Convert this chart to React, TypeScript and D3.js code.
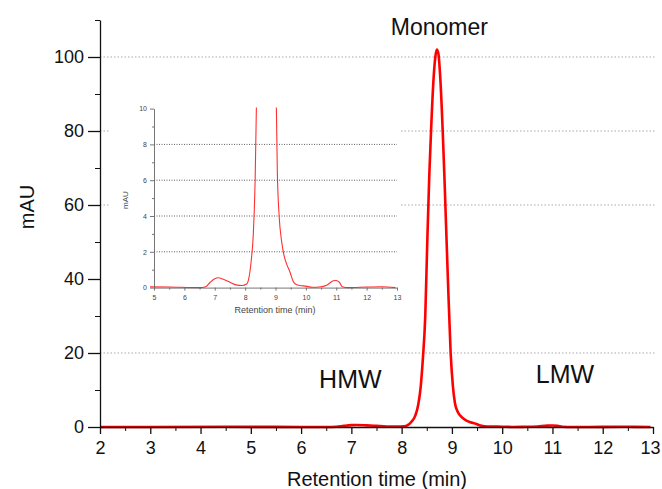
import React, { useEffect, useRef } from 'react';
import * as d3 from 'd3';

// chromatogram trace (retention time in min, absorbance in mAU)
const times = [2.0, 3.0, 4.5, 5.5, 6.5, 6.7, 6.85, 7.0, 7.1, 7.3, 7.5, 7.7, 7.9, 8.05, 8.12, 8.2, 8.27, 8.33, 8.38, 8.42, 8.47, 8.51, 8.55, 8.585, 8.63, 8.67, 8.7, 8.73, 8.77, 8.817, 8.85, 8.87, 8.92, 8.975, 9.02, 9.06, 9.12, 9.2, 9.28, 9.37, 9.47, 9.57, 9.65, 9.8, 10.0, 10.2, 10.5, 10.7, 10.9, 11.0, 11.1, 11.2, 11.4, 12.0, 12.5, 12.95];
const mAU = [0, 0.02, 0.05, 0.03, 0, 0.05, 0.3, 0.5, 0.55, 0.45, 0.3, 0.15, 0.12, 0.2, 0.5, 1.5, 3, 6, 11, 18, 30, 50, 68, 80, 93, 100, 102, 101, 94, 80, 68, 60, 40, 20, 11, 6.5, 4, 2.6, 1.8, 1.3, 0.9, 0.4, 0.2, 0.12, 0.08, 0.02, 0.05, 0.15, 0.38, 0.4, 0.3, 0.05, 0, 0.03, 0.05, 0];

const xTicks = [2, 3, 4, 5, 6, 7, 8, 9, 10, 11, 12, 13];
const yTicks = [0, 20, 40, 60, 80, 100];
const gridValues = [20, 60, 80, 100];
const insetXTicks = [5, 6, 7, 8, 9, 10, 11, 12, 13];
const insetYTicks = [0, 2, 4, 6, 8, 10];
const insetGrid = [2, 4, 6, 8];

const peakLabels = [
  { text: 'Monomer', t: 8.75, v: 106, size: 23 },
  { text: 'HMW', t: 6.98, v: 10.5, size: 25 },
  { text: 'LMW', t: 11.25, v: 12, size: 25 },
];

const App = () => {
  const ref = useRef(null);

  useEffect(() => {
    const svg = d3.select(ref.current);
    svg.selectAll('*').remove();
    const font = '"Liberation Sans", Arial, sans-serif';
    const data = times.map((t, i) => ({ t, v: mAU[i] }));

    // main plot
    const x = d3.scaleLinear().domain([2, 13]).range([100, 653]);
    const y = d3.scaleLinear().domain([0, 110]).range([427, 20]);

    svg.append('g').selectAll('line').data(gridValues).join('line')
      .attr('x1', 100).attr('x2', 656)
      .attr('y1', d => y(d)).attr('y2', d => y(d))
      .attr('stroke', '#a8a8a8').attr('stroke-width', 1)
      .attr('stroke-dasharray', '1.5,2');

    const line = d3.line().x(d => x(d.t)).y(d => y(d.v)).curve(d3.curveMonotoneX);
    svg.append('path').datum(data)
      .attr('d', line).attr('fill', 'none')
      .attr('stroke', '#ff0000').attr('stroke-width', 2.6);

    const xAx = svg.append('g').attr('transform', 'translate(0,427)')
      .call(d3.axisBottom(x).tickValues(xTicks).tickFormat(d3.format('d')).tickSize(7).tickSizeOuter(0));
    svg.append('g').attr('transform', 'translate(0,427)')
      .call(d3.axisBottom(x).tickValues(d3.range(2.5, 13, 1)).tickFormat(() => '').tickSize(4).tickSizeOuter(0))
      .select('.domain').remove();
    const yAx = svg.append('g').attr('transform', 'translate(100,0)')
      .call(d3.axisLeft(y).tickValues(yTicks).tickSize(12).tickSizeOuter(0));
    svg.append('g').attr('transform', 'translate(100,0)')
      .call(d3.axisLeft(y).tickValues(d3.range(10, 111, 20)).tickFormat(() => '').tickSize(5).tickSizeOuter(0))
      .select('.domain').remove();
    [xAx, yAx].forEach(g => {
      g.selectAll('text').attr('font-family', font).attr('font-size', 18).attr('fill', '#111');
      g.selectAll('line, path').attr('stroke', '#111').attr('stroke-width', 1.3);
    });
    xAx.selectAll('text').attr('dy', '0.95em');
    xAx.selectAll('text').filter(d => d === 13).attr('dx', '-3px');
    yAx.selectAll('text').attr('dx', '-1px');
    svg.selectAll('g > .tick line').attr('stroke', '#111');

    svg.append('text').attr('x', 377).attr('y', 486).attr('text-anchor', 'middle')
      .attr('font-family', font).attr('font-size', 20).attr('fill', '#111')
      .text('Retention time (min)');
    svg.append('text').attr('transform', 'translate(34,207) rotate(-90)').attr('text-anchor', 'middle')
      .attr('font-family', font).attr('font-size', 20).attr('fill', '#111')
      .text('mAU');

    svg.append('g').selectAll('text').data(peakLabels).join('text')
      .attr('x', d => x(d.t)).attr('y', d => y(d.v)).attr('text-anchor', 'middle')
      .attr('font-family', font).attr('font-size', d => d.size).attr('fill', '#111')
      .text(d => d.text);

    // inset
    const ins = svg.append('g');
    ins.append('rect').attr('x', 110).attr('y', 98).attr('width', 289).attr('height', 222).attr('fill', '#fff');
    const ix = d3.scaleLinear().domain([5, 13]).range([154, 397]);
    const iy = d3.scaleLinear().domain([0, 10]).range([287.6, 108.6]);

    ins.append('g').selectAll('line').data(insetGrid).join('line')
      .attr('x1', 154).attr('x2', 397)
      .attr('y1', d => iy(d)).attr('y2', d => iy(d))
      .attr('stroke', '#333').attr('stroke-width', 0.8)
      .attr('stroke-dasharray', '1,1.5');

    ins.append('clipPath').attr('id', 'insclip').append('rect')
      .attr('x', 150).attr('y', iy(10) - 1).attr('width', 250).attr('height', 185);
    const iline = d3.line().x(d => ix(d.t)).y(d => iy(d.v)).curve(d3.curveMonotoneX);
    ins.append('path').datum(data.filter(d => d.t >= 4.5))
      .attr('clip-path', 'url(#insclip)')
      .attr('d', iline).attr('fill', 'none')
      .attr('stroke', '#ff3030').attr('stroke-width', 1.1);

    const ixAx = ins.append('g').attr('transform', `translate(0,${iy(0)})`)
      .call(d3.axisBottom(ix).tickValues(insetXTicks).tickFormat(d3.format('d')).tickSize(3).tickSizeOuter(0));
    ins.append('g').attr('transform', `translate(0,${iy(0)})`)
      .call(d3.axisBottom(ix).tickValues(d3.range(5.5, 13, 1)).tickFormat(() => '').tickSize(2).tickSizeOuter(0))
      .select('.domain').remove();
    const iyAx = ins.append('g').attr('transform', 'translate(154,0)')
      .call(d3.axisLeft(iy).tickValues(insetYTicks).tickFormat(d3.format('d')).tickSize(4).tickSizeOuter(0));
    ins.append('g').attr('transform', 'translate(154,0)')
      .call(d3.axisLeft(iy).tickValues([1, 3, 5, 7, 9]).tickFormat(() => '').tickSize(2).tickSizeOuter(0))
      .select('.domain').remove();
    [ixAx, iyAx].forEach(g => {
      g.selectAll('text').attr('font-family', font).attr('font-size', 7).attr('fill', '#444');
    });
    ins.selectAll('.domain, .tick line').attr('stroke', '#666').attr('stroke-width', 0.9);
    ixAx.selectAll('text').attr('dy', '0.9em');

    ins.append('text').attr('x', 275).attr('y', 313).attr('text-anchor', 'middle')
      .attr('font-family', font).attr('font-size', 9).attr('fill', '#444')
      .text('Retention time (min)');
    ins.append('text').attr('transform', 'translate(128,200) rotate(-90)').attr('text-anchor', 'middle')
      .attr('font-family', font).attr('font-size', 8).attr('fill', '#444')
      .text('mAU');
  }, []);

  return (
    <svg ref={ref} width={662} height={489}
      style={{ position: 'absolute', left: 0, top: 0, background: '#fff' }} />
  );
};

export default App;
